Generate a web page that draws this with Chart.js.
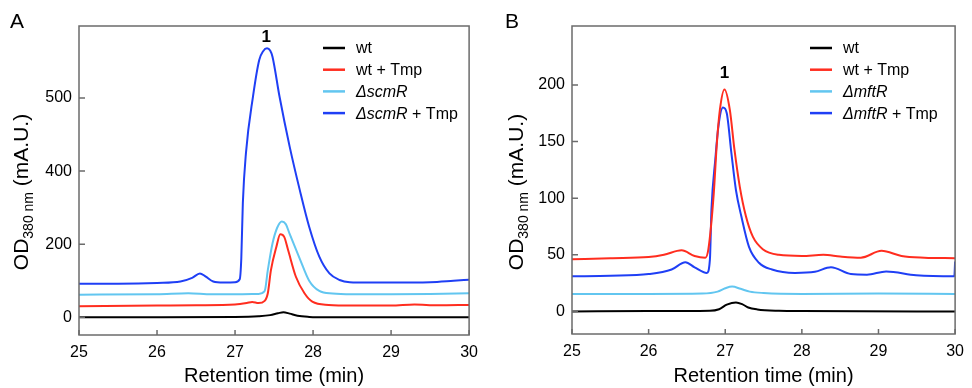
<!DOCTYPE html>
<html>
<head>
<meta charset="utf-8">
<script src="https://cdn.jsdelivr.net/npm/chart.js@4.4.1/dist/chart.umd.min.js"></script>
<style>
  html, body { margin: 0; padding: 0; background: #fff; }
  #wrap { position: relative; width: 972px; height: 388px; }
  canvas { position: absolute; top: 0; }
  #chartA { left: 0; }
  #chartB { left: 486px; }
</style>
</head>
<body>
<div id="wrap">
  <canvas id="chartA" width="486" height="388"></canvas>
  <canvas id="chartB" width="486" height="388"></canvas>
</div>
<script>
const FAMILY = '"Liberation Sans", Arial, sans-serif';

// shared x axis
const xTicks = [25, 26, 27, 28, 29, 30];
const xTitle = "Retention time (min)";

// ---- panel A ----
const labelsA = ["wt", "wt + Tmp", "ΔscmR", "ΔscmR + Tmp"];
const yTicksA = [0, 200, 400, 600];
const yTickLabelsA = ["0", "200", "400", "500"];

const tWtA = [25, 26, 27, 27.3, 27.45, 27.55, 27.62, 27.7, 27.8, 27.95, 28.2, 29, 30];
const wtA = [0, 0, 1, 3, 6, 11, 14, 10, 4, 1, 0, 0, 0];

const tWtTmpA = [25, 26, 26.5, 27, 27.15, 27.22, 27.3, 27.38, 27.42, 27.46, 27.53, 27.58, 27.63, 27.68, 27.78, 27.89, 27.99, 28.2, 28.5, 29, 29.3, 29.6, 30];
const wtTmpA = [30, 32, 33, 35, 39, 42, 39, 45, 66, 129, 193, 227, 220, 184, 111, 66, 43, 34, 32, 32, 35, 33, 34];

const tDelA = [25, 26, 26.4, 26.7, 27, 27.3, 27.38, 27.42, 27.48, 27.54, 27.6, 27.65, 27.7, 27.83, 27.95, 28.08, 28.25, 28.5, 29, 29.5, 30];
const delA = [62, 63, 66, 63, 63, 64, 72, 129, 202, 245, 262, 255, 228, 160, 100, 72, 65, 63, 63, 64, 66];

const tDelTmpA = [25, 25.5, 26, 26.3, 26.45, 26.55, 26.62, 26.72, 26.85, 27, 27.06, 27.08, 27.1, 27.14, 27.23, 27.31, 27.36, 27.41, 27.45, 27.48, 27.57, 27.7, 27.83, 27.95, 28.08, 28.21, 28.34, 28.47, 28.7, 29, 29.5, 29.8, 30];
const delTmpA = [92, 92, 94, 98, 108, 120, 112, 98, 95, 96, 104, 160, 313, 450, 604, 704, 728, 736, 730, 713, 604, 467, 348, 248, 166, 120, 102, 96, 95, 95, 96, 100, 103];

const peakXA = [27.4];
const peakYA = [767];

// ---- panel B ----
const labelsB = ["wt", "wt + Tmp", "ΔmftR", "ΔmftR + Tmp"];
const yTicksB = [0, 50, 100, 150, 200];
const yTickLabelsB = ["0", "50", "100", "150", "200"];

const tWtB = [25, 26, 26.8, 26.92, 27.02, 27.14, 27.22, 27.3, 27.42, 27.7, 28, 30];
const wtB = [0, 0.3, 0.6, 2, 6, 8, 6.5, 3.5, 1.8, 0.6, 0.3, 0];

const tWtTmpB = [25, 25.5, 26, 26.2, 26.43, 26.6, 26.74, 26.78, 26.85, 26.89, 26.93, 26.99, 27.06, 27.12, 27.19, 27.27, 27.36, 27.49, 27.7, 28, 28.28, 28.5, 28.77, 29.04, 29.3, 29.6, 30];
const wtTmpB = [46, 47, 48, 50, 54, 49, 47.5, 55, 104, 148, 178, 196, 178, 143, 110, 84, 66, 55, 50, 49, 50, 48.5, 47.5, 53.5, 49, 47.5, 47];

const tDelB = [25, 26, 26.7, 26.9, 27, 27.09, 27.2, 27.32, 27.5, 28, 29, 30];
const delB = [15.5, 15.5, 15.8, 17.5, 20.5, 22, 20, 17.5, 16.3, 15.5, 15.8, 15.5];

const tDelTmpB = [25, 25.5, 26, 26.3, 26.48, 26.6, 26.76, 26.8, 26.82, 26.87, 26.91, 26.97, 27.02, 27.08, 27.14, 27.21, 27.31, 27.44, 27.61, 27.91, 28.17, 28.38, 28.64, 28.85, 29.1, 29.49, 29.99, 30];
const delTmpB = [31, 31.5, 33, 37, 43.5, 39, 34, 46, 90, 134, 163, 180, 175, 140, 107, 84, 57, 43, 37, 34, 35, 39, 33, 32.5, 35.3, 32, 31, 44];

const peakXB = [26.99];
const peakYB = [210];

const colors = ["#000000", "#ff2d1f", "#62c6f0", "#1f3ff5"];

function points(xs, ys) {
  return xs.map((x, i) => ({ x: x, y: ys[i] }));
}

function labelParts(label) {
  if (!label.startsWith("Δ")) return [{ text: label, italic: false }];
  const i = label.indexOf(" +");
  if (i < 0) return [{ text: label, italic: true }];
  return [{ text: label.slice(0, i), italic: true }, { text: label.slice(i), italic: false }];
}

const decor = {
  id: "decor",
  afterDraw(chart, args, opts) {
    const ctx = chart.ctx;
    const area = chart.chartArea;
    const xs = chart.scales.x;
    const ys = chart.scales.y;
    ctx.save();

    // frame and inward ticks
    ctx.strokeStyle = "#6b6b6b";
    ctx.lineWidth = 1.5;
    ctx.strokeRect(area.left, area.top, area.right - area.left, area.bottom - area.top);
    ctx.beginPath();
    xs.ticks.forEach(t => {
      const px = xs.getPixelForValue(t.value);
      ctx.moveTo(px, area.bottom);
      ctx.lineTo(px, area.bottom - 5);
    });
    ys.ticks.forEach(t => {
      const py = ys.getPixelForValue(t.value);
      ctx.moveTo(area.left, py);
      ctx.lineTo(area.left + 6, py);
    });
    ctx.stroke();

    ctx.fillStyle = "#000";

    // panel letter
    ctx.font = "21px " + FAMILY;
    ctx.textAlign = "center";
    ctx.textBaseline = "middle";
    ctx.fillText(opts.letter, opts.letterX, 22);

    // y title with subscript
    ctx.save();
    ctx.translate(opts.yTitleX, 192);
    ctx.rotate(-Math.PI / 2);
    ctx.textAlign = "left";
    const parts = [
      { text: "OD", size: 21, dy: 0 },
      { text: "380 nm", size: 14, dy: 7 },
      { text: " (mA.U.)", size: 21, dy: 0 }
    ];
    let total = 0;
    parts.forEach(p => {
      ctx.font = p.size + "px " + FAMILY;
      total += ctx.measureText(p.text).width;
    });
    let cx = -total / 2;
    parts.forEach(p => {
      ctx.font = p.size + "px " + FAMILY;
      ctx.fillText(p.text, cx, p.dy);
      cx += ctx.measureText(p.text).width;
    });
    ctx.restore();

    // peak labels
    ctx.font = "bold 17px " + FAMILY;
    ctx.textAlign = "center";
    opts.peakX.forEach((v, i) => {
      ctx.fillText("1", xs.getPixelForValue(v), ys.getPixelForValue(opts.peakY[i]));
    });

    // legend
    ctx.textAlign = "left";
    chart.data.datasets.forEach((ds, i) => {
      const y = 48 + i * 21.7;
      ctx.strokeStyle = ds.borderColor;
      ctx.lineWidth = 2.5;
      ctx.beginPath();
      ctx.moveTo(opts.legendX, y);
      ctx.lineTo(opts.legendX + 22, y);
      ctx.stroke();
      let tx = opts.legendX + 33;
      labelParts(ds.label).forEach(p => {
        ctx.font = (p.italic ? "italic " : "") + "16px " + FAMILY;
        ctx.fillText(p.text, tx, y + 1);
        tx += ctx.measureText(p.text).width;
      });
    });

    ctx.restore();
  }
};

function makePanel(id, labels, series, yMin, yMax, yTicks, yTickLabels, yWidth, padRight, xHeight, decorOpts) {
  return new Chart(document.getElementById(id), {
    type: "line",
    data: {
      datasets: series.map((s, i) => ({
        label: labels[i],
        data: points(s[0], s[1]),
        borderColor: colors[i],
        borderWidth: 2,
        pointRadius: 0,
        fill: false,
        cubicInterpolationMode: "monotone"
      }))
    },
    plugins: [decor],
    options: {
      responsive: false,
      animation: false,
      devicePixelRatio: 1,
      layout: { padding: { top: 26, left: 0, right: padRight, bottom: 0 } },
      plugins: {
        legend: { display: false },
        tooltip: { enabled: false },
        decor: decorOpts
      },
      scales: {
        x: {
          type: "linear",
          min: 25,
          max: 30,
          afterBuildTicks: s => { s.ticks = xTicks.map(v => ({ value: v })); },
          afterFit: s => { s.height = xHeight; },
          grid: { display: false, drawTicks: false },
          border: { display: false },
          ticks: {
            color: "#000",
            padding: 8,
            maxRotation: 0,
            font: { size: 16, family: FAMILY },
            callback: v => String(v)
          },
          title: {
            display: true,
            text: xTitle,
            color: "#000",
            font: { size: 20, family: FAMILY },
            padding: { top: 0, bottom: 0 }
          }
        },
        y: {
          type: "linear",
          min: yMin,
          max: yMax,
          afterBuildTicks: s => { s.ticks = yTicks.map(v => ({ value: v })); },
          afterFit: s => { s.width = yWidth; },
          grid: { display: false, drawTicks: false },
          border: { display: false },
          ticks: {
            color: "#000",
            padding: 7,
            font: { size: 16, family: FAMILY },
            callback: v => yTickLabels[yTicks.indexOf(v)]
          }
        }
      }
    }
  });
}

makePanel("chartA", labelsA,
  [[tWtA, wtA], [tWtTmpA, wtTmpA], [tDelA, delA], [tDelTmpA, delTmpA]],
  -48.4, 797, yTicksA, yTickLabelsA, 79, 16, 53,
  { letter: "A", letterX: 17, yTitleX: 22, legendX: 323, peakX: peakXA, peakY: peakYA });

makePanel("chartB", labelsB,
  [[tWtB, wtB], [tWtTmpB, wtTmpB], [tDelB, delB], [tDelTmpB, delTmpB]],
  -19.9, 252, yTicksB, yTickLabelsB, 86, 9, 54,
  { letter: "B", letterX: 26, yTitleX: 31, legendX: 324, peakX: peakXB, peakY: peakYB });
</script>
</body>
</html>
